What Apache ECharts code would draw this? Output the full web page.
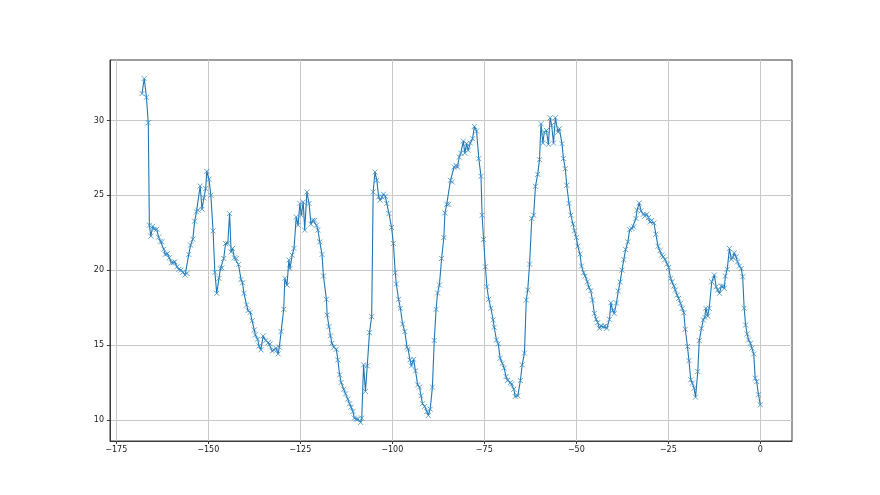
<!DOCTYPE html>
<html>
<head>
<meta charset="utf-8">
<script src="https://cdn.jsdelivr.net/npm/echarts@6/dist/echarts.min.js"></script>
<style>html,body{margin:0;padding:0;background:#fff;}#chart{width:880px;height:495px;}</style>
</head>
<body>
<div id="chart"></div>
<script>
var xValues = [
-168.0,-167.4,-166.8,-166.3,-166.0,-165.6,-165.1,-164.7,-164.0,-163.5,-163.0,-162.6,-162.1,-161.7,-161.1,-160.6,-160.0,-159.5,-159.1,-158.5,
-158.0,-157.4,-156.9,-156.3,-155.8,-155.3,-154.8,-154.2,-153.7,-153.2,-152.8,-152.2,-151.7,-151.2,-150.7,-150.4,-149.8,-149.3,-148.7,-148.2,
-147.7,-147.1,-146.7,-146.3,-145.8,-145.3,-144.7,-144.2,-143.8,-143.4,-142.9,-142.4,-141.8,
-141.1,-140.7,-140.3,-139.6,-139.2,-138.6,-138.1,-137.5,-137.2,-136.6,-136.2,-135.7,-135.1,-134.4,-133.7,-133.2,-132.6,-132.1,-131.6,-131.0,
-130.7,-130.2,-129.5,-129.2,-128.6,-128.1,-127.8,-127.2,-126.7,-126.1,-125.6,-125.1,-124.7,-124.2,-123.8,-123.2,-122.6,-122.1,-121.6,-121.1,
-120.6,-120.2,-119.7,-119.1,-118.7,-117.9,-117.7,-117.2,-116.8,-116.4,-115.9,-115.2,-114.8,
-114.3,-113.9,-113.2,-112.7,-112.1,-111.6,-111.2,-110.7,-110.3,-109.8,-109.4,-108.6,-108.3,-107.8,-107.3,-106.8,-106.2,-105.6,-105.2,-104.7,
-104.2,-103.7,-103.3,-102.8,-102.4,-101.9,-101.5,-100.9,-100.2,-99.7,-99.2,-98.9,-98.3,-97.8,-97.2,-96.6,-96.0,-95.7,-95.2,-94.8,
-94.2,-93.7,-93.1,-92.6,-92.2,-91.8,-91.2,-90.6,-90.2,-89.7,-89.1,-88.6,-88.1,-87.7,-87.2,-86.6,-86.0,-85.7,
-85.2,-84.7,-84.2,-83.7,-83.2,-82.7,-82.3,-81.8,-81.4,-80.7,-80.3,-79.8,-79.4,-78.8,-78.2,-77.7,-77.1,-76.5,-75.9,-75.6,
-75.2,-74.7,-74.3,-73.8,-73.2,-72.6,-72.3,-71.7,-71.2,-70.7,-70.1,-69.6,-69.1,-68.7,-67.9,-67.5,-67.0,-66.6,-65.9,-65.2,
-64.7,-64.1,-63.6,-63.2,-62.7,-62.1,-61.6,-61.1,-60.5,-60.0,-59.6,-59.1,
-58.7,-58.1,-57.6,-57.1,-56.7,-56.2,-55.7,-55.0,-54.6,-53.9,-53.5,-53.0,-52.6,-52.0,-51.5,-50.9,-50.5,-50.0,-49.6,-49.0,
-48.6,-48.0,-47.6,-47.0,-46.6,-46.1,-45.6,-45.1,-44.6,-44.2,-43.7,-43.3,-42.7,-42.2,-41.7,-41.0,-40.6,-40.1,-39.7,-39.1,
-38.6,-38.1,-37.6,-37.1,
-36.6,-36.0,-35.5,-34.9,-34.4,-33.8,-33.5,-32.9,-32.4,-31.8,-31.4,-30.9,-30.4,-30.0,-29.5,-28.9,-28.4,-27.8,-27.3,-26.8,
-26.4,-25.9,-25.3,-24.9,-24.4,-24.0,-23.5,-23.1,-22.6,-22.2,-21.7,-21.2,-20.8,-20.4,-19.8,-19.4,-18.9,-18.5,-18.0,-17.6,
-17.0,-16.6,-16.0,-15.5,-15.1,-14.8,-14.3,-13.9,-13.2,-12.5,-12.0,-11.6,-11.1,-10.6,-10.2,-9.8,-9.5,-9.0,-8.4,-7.9,
-7.5,-7.1,-6.6,-6.2,-5.7,-5.2,-4.8,-4.4,-4.0,-3.6,-3.2,-2.7,-2.3,-1.8,-1.4,-1.0,-0.5,0.0
];
var yValues = [
31.8,32.8,31.55,29.85,23.0,22.27,22.93,22.73,22.73,22.2,21.93,21.89,21.4,21.05,21.1,20.82,20.49,20.5,20.55,20.22,
20.05,20.0,19.85,19.67,19.78,21.05,21.67,22.07,23.27,23.89,24.0,25.62,24.07,24.82,25.45,26.6,26.07,25.0,22.62,19.85,
18.45,19.45,20.1,20.15,20.78,21.78,21.78,23.78,21.22,21.45,20.82,20.78,20.38,
19.38,19.15,18.45,17.67,17.29,17.18,16.62,16.0,15.67,15.38,14.93,14.67,15.6,15.29,15.15,15.07,14.6,14.67,14.78,14.4,
14.85,15.89,17.38,19.45,19.0,20.67,20.1,21.0,21.45,23.55,23.0,24.45,23.67,24.55,22.67,25.22,24.45,23.07,23.33,23.33,
23.0,22.67,21.89,21.05,19.6,18.05,17.0,16.22,15.6,15.11,14.85,14.71,14.0,
13.0,12.49,12.04,11.73,11.38,11.07,10.84,10.55,10.11,10.04,10.04,9.82,10.11,13.67,11.89,13.6,15.82,16.89,25.22,26.55,
26.0,24.89,24.67,24.89,25.07,24.93,24.45,23.78,22.85,21.78,19.82,19.07,18.05,17.45,16.4,15.89,14.85,14.71,14.0,13.6,
14.04,13.27,12.33,12.18,11.6,11.07,10.89,10.55,10.29,10.71,12.18,15.3,17.38,18.47,19.0,20.78,22.18,23.82,
24.4,24.4,26.0,25.89,26.89,27.0,26.89,27.55,27.82,28.62,27.82,28.45,28.0,28.49,28.78,29.6,29.29,27.45,26.27,23.67,
22.05,20.22,18.89,18.05,17.45,16.67,16.18,15.33,15.07,14.11,13.78,13.45,12.89,12.62,12.49,12.4,12.04,11.55,11.6,12.62,
13.67,14.45,18.0,18.67,20.4,23.45,23.67,25.6,26.4,27.38,29.78,28.49,
29.22,29.33,28.4,30.18,29.67,28.49,30.18,29.22,29.45,28.45,27.45,26.78,25.67,24.45,23.67,23.07,22.62,22.18,21.6,21.07,
20.27,19.82,19.6,19.22,18.85,18.62,18.0,17.11,16.71,16.49,16.11,16.27,16.22,16.27,16.11,16.71,17.82,17.3,17.1,17.8,
18.6,19.2,20.0,20.7,
21.38,21.89,22.71,22.78,22.89,23.45,24.0,24.49,23.95,23.73,23.6,23.73,23.51,23.22,23.33,23.15,22.4,21.6,21.29,21.0,
20.89,20.71,20.4,20.18,19.45,19.22,18.93,18.67,18.33,18.11,17.78,17.45,17.15,16.05,14.89,13.95,12.67,12.45,12.11,11.51,
13.22,15.29,16.11,16.67,16.85,17.45,16.93,17.45,19.22,19.67,18.89,18.67,18.45,18.93,18.93,18.78,19.6,20.05,21.45,20.71,
20.85,21.15,20.89,20.55,20.27,20.11,19.55,17.45,16.33,15.73,15.33,15.11,14.78,14.4,12.78,12.55,11.67,11.0
];
var xTicks = [-175, -150, -125, -100, -75, -50, -25, 0];
var yTicks = [10, 15, 20, 25, 30];

var points = xValues.map(function (x, i) { return [x, yValues[i]]; });
var labelFmt = function (v) { return String(v).replace('-', '\u2212'); };
var font = 'DejaVu Sans';

var chart = echarts.init(document.getElementById('chart'), null, { renderer: 'canvas' });
chart.setOption({
  animation: false,
  backgroundColor: '#ffffff',
  grid: { left: 110, right: 88, top: 60, bottom: 54, show: true, borderColor: '#3a3a3a', borderWidth: 1, backgroundColor: 'transparent' },
  xAxis: {
    type: 'value', min: -176.7, max: 8.6,
    axisLine: { show: true, onZero: false, lineStyle: { color: '#3a3a3a', width: 1 } },
    axisTick: { show: true, length: 3, customValues: xTicks, lineStyle: { color: '#3a3a3a', width: 1 } },
    axisLabel: { customValues: xTicks, formatter: labelFmt, margin: 5, color: '#1a1a1a', fontFamily: font, fontSize: 8 },
    splitLine: { show: true, lineStyle: { color: '#c8c8c8', width: 1 } }
  },
  yAxis: {
    type: 'value', min: 8.58, max: 34.04,
    axisLine: { show: true, onZero: false, lineStyle: { color: '#3a3a3a', width: 1 } },
    axisTick: { show: true, length: 3, customValues: yTicks, lineStyle: { color: '#3a3a3a', width: 1 } },
    axisLabel: { customValues: yTicks, formatter: labelFmt, margin: 6, color: '#1a1a1a', fontFamily: font, fontSize: 8 },
    splitLine: { show: true, lineStyle: { color: '#c8c8c8', width: 1 } }
  },
  series: [{
    type: 'line',
    data: points,
    showAllSymbol: true,
    symbol: 'path://M0,0L10,10M10,0L0,10',
    symbolSize: 5,
    lineStyle: { color: '#1f77b4', width: 1.1 },
    itemStyle: { color: '#1f77b4', borderColor: '#3a8cc6', borderWidth: 0.8 },
    emphasis: { disabled: true }
  }]
});
</script>
</body>
</html>
